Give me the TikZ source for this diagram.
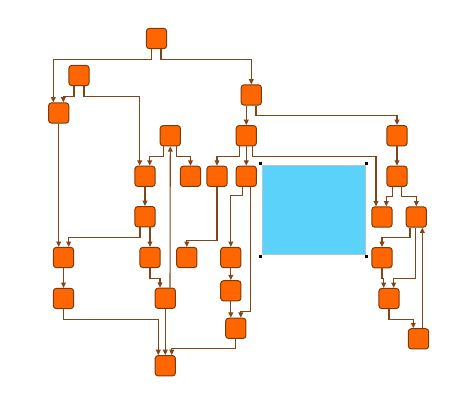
\documentclass[tikz,border=0pt]{standalone}
\usetikzlibrary{arrows.meta,calc}

\begin{document}
\begin{tikzpicture}[x=0.75pt,y=0.75pt,yscale=-1,xscale=1,
    blk/.style={draw={rgb, 255:red, 122; green, 58; blue, 10 }, line width=0.75pt, fill={rgb, 255:red, 255; green, 102; blue, 0 }, rounded corners=2.2pt, minimum size=15.2pt, inner sep=0pt},
    link/.style={draw={rgb, 255:red, 128; green, 70; blue, 25 }, line width=0.8pt, -{Triangle[length=4pt,width=3.6pt]}},
    handle/.style={fill=black}]
        \useasboundingbox (0,0) rectangle (460,400);
        % selected pane
        \draw  [color={rgb, 255:red, 170; green, 200; blue, 215 }  ,fill={rgb, 255:red, 90; green, 210; blue, 250 }  ,line width=0.75pt] (262.7,165) rectangle (365,254) ;
        \fill [handle] (259.2,162.2) rectangle (262.2,165.2) ;
        \fill [handle] (365.2,162.2) rectangle (368.2,165.2) ;
        \fill [handle] (259.2,254.5) rectangle (262.2,257.5) ;
        \fill [handle] (365.2,254.5) rectangle (368.2,257.5) ;
        % blocks
        \node [blk] (n1) at (156.5,38.5) {};
        \node [blk] (n2) at (79,75.5) {};
        \node [blk] (n3) at (251.3,95) {};
        \node [blk] (n4) at (58.7,113) {};
        \node [blk] (n5) at (170.3,135.7) {};
        \node [blk] (n6) at (246.3,135.7) {};
        \node [blk] (n7) at (397,135.7) {};
        \node [blk] (n8) at (145,176.3) {};
        \node [blk] (n9) at (190.5,176.3) {};
        \node [blk] (n10) at (217,176.3) {};
        \node [blk] (n11) at (246.3,176.3) {};
        \node [blk] (n12) at (397,176.3) {};
        \node [blk] (n13) at (145,216.7) {};
        \node [blk] (n14) at (382,217) {};
        \node [blk] (n15) at (416.3,217) {};
        \node [blk] (n16) at (63.5,257.5) {};
        \node [blk] (n17) at (150,257.5) {};
        \node [blk] (n18) at (186.8,257.5) {};
        \node [blk] (n19) at (230.8,257.5) {};
        \node [blk] (n20) at (382,257.7) {};
        \node [blk] (n21) at (230.8,290.8) {};
        \node [blk] (n22) at (63.5,298.5) {};
        \node [blk] (n23) at (165.3,298.3) {};
        \node [blk] (n24) at (389,298.5) {};
        \node [blk] (n25) at (235.8,328.3) {};
        \node [blk] (n26) at (418.5,338.8) {};
        \node [blk] (n27) at (165.3,365.7) {};
        % links
        \draw [link] ($(n1.south)+(-5,0)$) -- ++(0,10) -| ($(n4.north)+(-5.4,0)$) ;
        \draw [link] ($(n1.south)+(4.5,0)$) -- ++(0,10) -| (n3.north) ;
        \draw [link] ($(n2.south)+(-5,0)$) -- ++(0,10) -| ($(n4.north)+(4.6,0)$) ;
        \draw [link] ($(n2.south)+(5,0)$) -- ++(0,10) -| ($(n8.north)+(-5.3,0)$) ;
        \draw [link] ($(n3.south)+(-5,0)$) -- (n6.north) ;
        \draw [link] ($(n3.south)+(4.7,0)$) -- ++(0,10) -| (n7.north) ;
        \draw [link] ($(n5.south)+(-7,0)$) -- ++(0,10) -| ($(n8.north)+(4.7,0)$) ;
        \draw [link] ($(n5.south)+(6.4,0)$) -- ++(0,10) -| (n9.north) ;
        \draw [link] ($(n6.south)+(-7,0)$) -- ++(0,10) -| (n10.north) ;
        \draw [link] (n6.south) -- (n11.north) ;
        \draw [link] ($(n6.south)+(6.4,0)$) -- ++(0,10) -| ($(n14.north)+(-6,0)$) ;
        \draw [link] (n7.south) -- (n12.north) ;
        \draw [link] ($(n12.south)+(-4.7,0)$) -- ++(0,10) -| ($(n14.north)+(4.3,0)$) ;
        \draw [link] ($(n12.south)+(4.7,0)$) -- ++(0,10) -| (n15.north) ;
        \draw [link] (n8.south) -- (n13.north) ;
        \draw [link] ($(n13.south)+(-5,0)$) -- ++(0,10) -| ($(n16.north)+(5.2,0)$) ;
        \draw [link] ($(n13.south)+(5,0)$) -- (n17.north) ;
        \draw [link] (n4.south) -- (n4.south |- n16.north) ;
        \draw [link] (n16.south) -- (n22.north) ;
        \draw [link] (n22.south) -- ++(0,10) -| ($(n27.north)+(-7,0)$) ;
        \draw [link] (n17.south) -- ++(0,10) -| ($(n23.north)+(-5.3,0)$) ;
        \draw [link] (n23.south) -- (n27.north) ;
        \draw [link] ($(n23.north)+(4.7,0)$) -- (n5.south) ;
        \draw [link] (n10.south) -- ++(0,54) -| (n18.north) ;
        \draw [link] ($(n11.south)+(-4,0)$) -- ++(0,9) -| (n19.north) ;
        \draw [link] ($(n11.south)+(4.4,0)$) -- ++(0,124.5) -| ($(n25.north)+(5,0)$) ;
        \draw [link] (n19.south) -- (n21.north) ;
        \draw [link] (n21.south) -- (n21.south |- n25.north) ;
        \draw [link] (n25.south) -- ++(0,10) -| ($(n27.north)+(6.4,0)$) ;
        \draw [link] ($(n15.south)+(-6.3,0)$) -- ++(0,10) -| (n20.north) ;
        \draw [link] ($(n15.south)+(-0.6,0)$) -- ++(0,51) -| ($(n24.north)+(4.7,0)$) ;
        \draw [link] ($(n26.north)+(3.8,0)$) -- ($(n15.south)+(6,0)$) ;
        \draw [link] (n20.south) -- ++(0,10.3) -| ($(n24.north)+(-5.3,0)$) ;
        \draw [link] (n24.south) -- ++(0,10) -| ($(n26.north)+(-5.2,0)$) ;
\end{tikzpicture}
\end{document}
